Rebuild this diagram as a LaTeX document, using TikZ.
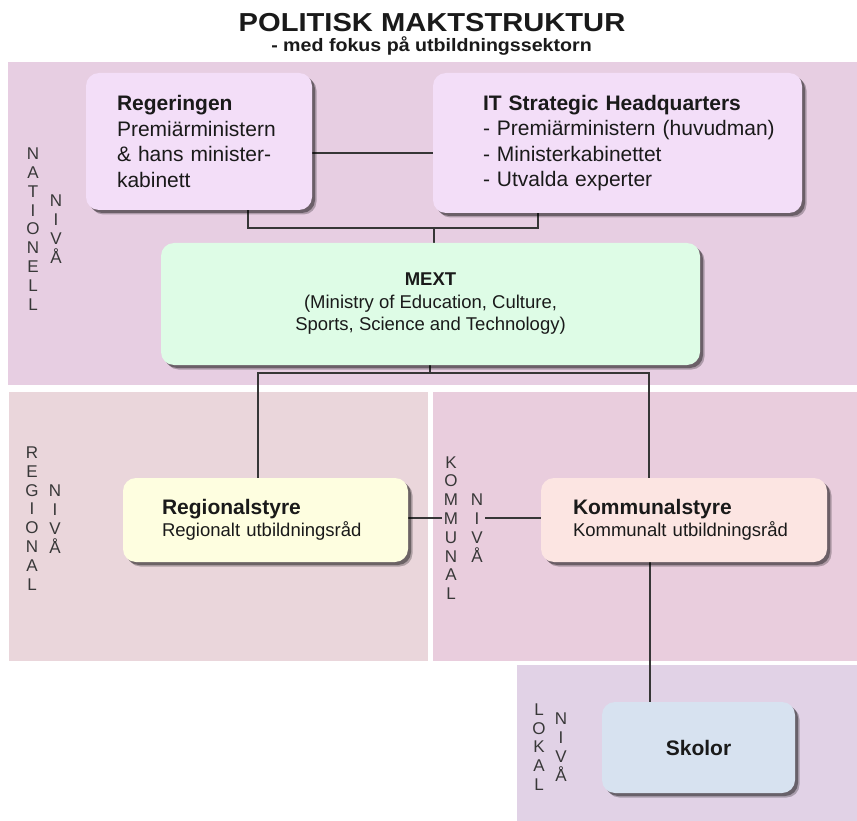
\documentclass[tikz,border=0pt]{standalone}
\usepackage{fontspec}
\setmainfont{Liberation Sans}
\usetikzlibrary{shadows}
\definecolor{bandnat}{HTML}{E7CEE2}
\definecolor{bandreg}{HTML}{EAD6DB}
\definecolor{bandkom}{HTML}{E9CDDD}
\definecolor{bandlok}{HTML}{E1D2E6}
\definecolor{boxtop}{HTML}{F3DEF8}
\definecolor{boxmext}{HTML}{DEFCE6}
\definecolor{boxreg}{HTML}{FEFEE0}
\definecolor{boxkom}{HTML}{FCE5E2}
\definecolor{boxsko}{HTML}{D7E2F0}
\definecolor{linec}{HTML}{363636}
\definecolor{vtc}{HTML}{383838}
\definecolor{txt}{HTML}{1A1A1A}
\pgfdeclarelayer{bg}
\pgfdeclarelayer{lines}
\pgfsetlayers{bg,lines,main}
\begin{document}
\begin{tikzpicture}[x=1pt,y=-1pt,
  box/.style={rounded corners=13pt, inner ysep=0pt, text=txt,
    drop shadow={shadow xshift=4.5pt,shadow yshift=-4.5pt,fill=black,opacity=.25},
    drop shadow={shadow xshift=3pt,shadow yshift=-3pt,fill=black,opacity=.38}},
  conn/.style={draw=linec, line width=2.7pt},
  vtext/.style={font=\fontsize{17}{18.8}\selectfont, text=vtc, align=center, inner ysep=0pt, inner xsep=2pt},
  topfont/.style={font=\fontsize{21}{25.5}\selectfont},
]
\useasboundingbox (0,0) rectangle (857,821);
\begin{pgfonlayer}{bg}
\fill[white] (0,0) rectangle (857,821);
\fill[bandnat] (8,62) rectangle (857,385);
\fill[bandreg] (9,392) rectangle (428,661);
\fill[bandkom] (433,392) rectangle (857,661);
\fill[bandlok] (517,665) rectangle (857,821);
\end{pgfonlayer}

% title
\node[font=\fontsize{26}{30}\selectfont\bfseries, anchor=base, text=txt, inner sep=0pt] (title) at (432,32)
  {\scalebox{1.12}[1]{POLITISK MAKTSTRUKTUR}};
\node[font=\fontsize{18}{20}\selectfont\bfseries, anchor=base, text=txt, inner sep=0pt] (subtitle) at (431.5,51.5)
  {\scalebox{1.09}[1]{- med fokus på utbildningssektorn}};

% boxes
\node[box, fill=boxtop, topfont, minimum height=137pt, inner xsep=31pt, text width=164pt, align=left] (reg) at (199,141.5)
  {\textbf{Regeringen}\\\mbox{Premiärministern}\\\mbox{\& hans minister-}\\kabinett};
\node[box, fill=boxtop, topfont, minimum height=140pt, inner xsep=50pt, text width=269pt, align=left] (it) at (617.5,143)
  {\mbox{\textbf{IT Strategic Headquarters}}\\\mbox{- Premiärministern (huvudman)}\\\mbox{- Ministerkabinettet}\\\mbox{- Utvalda experter}};
\node[box, fill=boxmext, font=\fontsize{18.5}{22.5}\selectfont, minimum height=122pt, minimum width=539pt, align=center] (mext) at (430.5,304)
  {\textbf{MEXT}\\(Ministry of Education, Culture,\\Sports, Science and Technology)};
\node[box, fill=boxreg, font=\fontsize{18.5}{22}\selectfont, minimum height=84pt, inner xsep=39pt, text width=207pt, align=left] (regb) at (265.5,520)
  {{\fontsize{21}{22}\selectfont\bfseries Regionalstyre}\\\mbox{Regionalt utbildningsråd}};
\node[box, fill=boxkom, font=\fontsize{18.5}{22}\selectfont, minimum height=84pt, inner xsep=32pt, text width=222pt, align=left] (komb) at (684,520)
  {{\fontsize{21}{22}\selectfont\bfseries Kommunalstyre}\\\mbox{Kommunalt utbildningsråd}};
\node[box, fill=boxsko, font=\fontsize{21}{24}\selectfont\bfseries, minimum height=91pt, minimum width=193pt] (skol) at (698.5,747.5) {Skolor};

% vertical level labels
\node[vtext] (nat1) at (33,229) {N\\A\\T\\I\\O\\N\\E\\L\\L};
\node[vtext] (nat2) at (56,229) {N\\I\\V\\Å};
\node[vtext] (reg1) at (32,518.5) {R\\E\\G\\I\\O\\N\\A\\L};
\node[vtext] (reg2) at (55,519) {N\\I\\V\\Å};
\node[vtext] (kv1) at (451,528) {K\\O\\M\\M\\U\\N\\A\\L};
\node[vtext] (kv2) at (477,528) {N\\I\\V\\Å};
\node[vtext] (lok1) at (539,747) {L\\O\\K\\A\\L};
\node[vtext] (lok2) at (561,747) {N\\I\\V\\Å};

% connectors
\coordinate (h1) at (0,153);
\coordinate (ja) at (248,228);
\coordinate (jb) at (538,228);
\coordinate (jm) at (434,228);
\coordinate (jc) at (258,373);
\coordinate (jd) at (649,373);
\coordinate (je) at (430,373);
\coordinate (jr) at (0,518);
\coordinate (sk) at (650,0);
\begin{pgfonlayer}{lines}
\draw[conn] (reg.east |- h1) -- (it.west |- h1);
\draw[conn] (reg.south -| ja) -- (ja) -- (jb) -- (it.south -| jb);
\draw[conn] (jm) -- (mext.north -| jm);
\draw[conn] (mext.south -| je) -- (je);
\draw[conn] (regb.north -| jc) -- (jc) -- (jd) -- (komb.north -| jd);
\draw[conn] (regb.east |- jr) -- (kv1.west |- jr);
\draw[conn] (kv2.east |- jr) -- (komb.west |- jr);
\draw[conn] (komb.south -| sk) -- (skol.north -| sk);
\end{pgfonlayer}
\end{tikzpicture}
\end{document}
